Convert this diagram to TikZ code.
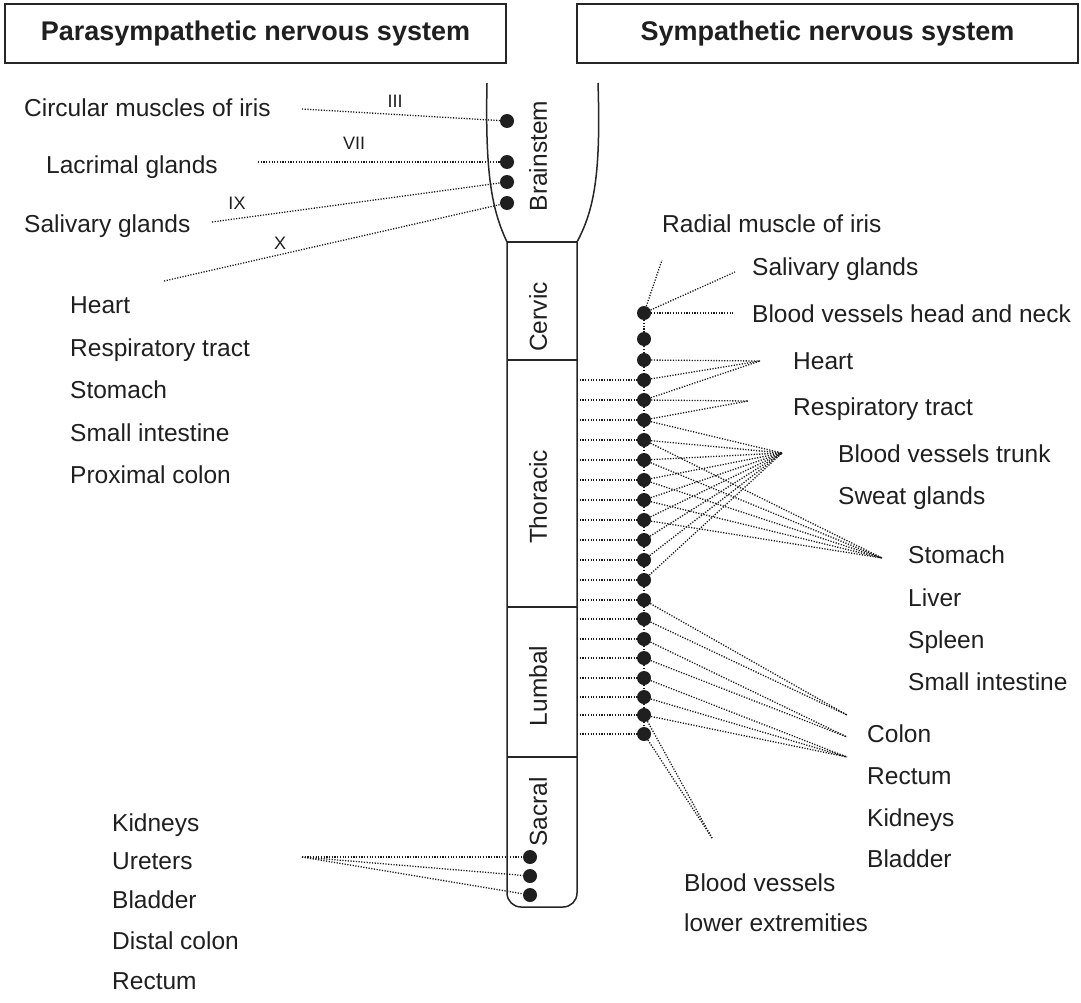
\documentclass[tikz,border=0pt]{standalone}
\usepackage{fontspec}
\setmainfont{Liberation Sans}
\begin{document}
\begin{tikzpicture}[x=1pt,y=-1pt,
  lbl/.style={anchor=base west, inner sep=0pt, font=\fontsize{24.5}{29}\selectfont, text=black!88},
  rn/.style={inner sep=0pt, font=\fontsize{18}{21}\selectfont, text=black!88},
  seg/.style={inner sep=0pt, rotate=90, font=\fontsize{24.5}{29}\selectfont, text=black!88},
  dot/.style={circle, fill=black!88, inner sep=0pt, minimum size=14pt},
  dl/.style={line width=1.3pt, dash pattern=on 1.2pt off 1.5pt, black!90},
  spine/.style={line width=1.5pt, black!85},
  titlebox/.style={draw=black!85, line width=1.4pt, minimum width=501pt, minimum height=59pt, inner sep=0pt, font=\fontsize{27}{32}\selectfont\bfseries, text=black!88}
]
\useasboundingbox (0,0) rectangle (1081,1003);

% titles
\node[titlebox] (tp) at (255.5,33.5) {Parasympathetic nervous system};
\node[titlebox] (ts) at (827.5,33.5) {Sympathetic nervous system};

% spine
\draw[spine] (487,83) .. controls (485,175) and (492,210) .. (507,242);
\draw[spine] (598,83) .. controls (601,175) and (594,210) .. (577,242);
\draw[spine, rounded corners=14pt] (507,242) -- (507,907) -- (577,907) -- (577,242);
\foreach \yy in {242,360,607,757} \draw[spine] (507,\yy) -- (577,\yy);

\node[seg] (lbs) at (538,156) {Brainstem};
\node[seg] (lcv) at (538,317) {Cervic};
\node[seg] (lth) at (538,497) {Thoracic};
\node[seg] (llu) at (538,686) {Lumbal};
\node[seg] (lsa) at (538,812) {Sacral};

% right chain dots
\foreach \yy [count=\i] in {313,339,360,380,400,420,440,460,480,500,520,540,560,580,600,619,639,658,678,697,715,734} {
  \node[dot] (d\i) at (644,\yy) {};
  \coordinate (s\i) at (577,\yy);
}
\foreach \i [evaluate=\i as \j using int(\i+1)] in {1,...,21} \draw[dl] (d\i) -- (d\j);
\foreach \i in {4,...,22} \draw[dl] (s\i) -- (d\i);

% right endpoints
\coordinate (eradial) at (662,260);
\coordinate (esal) at (735,272);
\coordinate (ehead) at (733,313);
\coordinate (eheart) at (760,361);
\coordinate (eresp) at (748,401);
\coordinate (ebvt) at (782,453);
\coordinate (estom) at (882,558);
\coordinate (ecol1) at (847,715);
\coordinate (ecol2) at (847,737);
\coordinate (ecol3) at (847,757);
\coordinate (ebvl) at (712,838);

\draw[dl] (d1) -- (eradial);
\draw[dl] (d1) -- (esal);
\draw[dl] (d1) -- (ehead);
\foreach \i in {3,4,5} \draw[dl] (d\i) -- (eheart);
\foreach \i in {5,6} \draw[dl] (d\i) -- (eresp);
\foreach \i in {6,...,14} \draw[dl] (d\i) -- (ebvt);
\foreach \i in {7,...,11} \draw[dl] (d\i) -- (estom);
\foreach \i in {15,16} \draw[dl] (d\i) -- (ecol1);
\foreach \i in {17,18} \draw[dl] (d\i) -- (ecol2);
\foreach \i in {19,20,21} \draw[dl] (d\i) -- (ecol3);
\foreach \i in {21,22} \draw[dl] (d\i) -- (ebvl);

% brainstem dots
\node[dot] (b1) at (507,121) {};
\node[dot] (b2) at (507,162) {};
\node[dot] (b3) at (507,182) {};
\node[dot] (b4) at (507,203) {};
\coordinate (ciii) at (302,109);
\coordinate (cvii) at (258,162);
\coordinate (cix) at (212,222);
\coordinate (cx) at (164,281);
\draw[dl] (ciii) -- (b1);
\draw[dl] (cvii) -- (b2);
\draw[dl] (cix) -- (b3);
\draw[dl] (cx) -- (b4);
\node[rn] (niii) at (395,101) {III};
\node[rn] (nvii) at (354,143) {VII};
\node[rn] (nix) at (237,203) {IX};
\node[rn] (nx) at (280,243) {X};

% sacral dots
\node[dot] (c1) at (530,857) {};
\node[dot] (c2) at (530,876) {};
\node[dot] (c3) at (530,895) {};
\coordinate (csac) at (302,857);
\foreach \i in {1,2,3} \draw[dl] (csac) -- (c\i);

% left labels
\node[lbl] (p1) at (24,117) {Circular muscles of iris};
\node[lbl] (p2) at (46,174) {Lacrimal glands};
\node[lbl] (p3) at (24,233) {Salivary glands};
\node[lbl] (p4) at (70,313) {Heart};
\node[lbl] (p5) at (70,356) {Respiratory tract};
\node[lbl] (p6) at (70,398) {Stomach};
\node[lbl] (p7) at (70,441) {Small intestine};
\node[lbl] (p8) at (70,483) {Proximal colon};
\node[lbl] (p9) at (112,831) {Kidneys};
\node[lbl] (p10) at (112,869) {Ureters};
\node[lbl] (p11) at (112,908) {Bladder};
\node[lbl] (p12) at (112,949) {Distal colon};
\node[lbl] (p13) at (112,989) {Rectum};

% right labels
\node[lbl] (r1) at (662,233) {Radial muscle of iris};
\node[lbl] (r2) at (752,275) {Salivary glands};
\node[lbl] (r3) at (752,322) {Blood vessels head and neck};
\node[lbl] (r4) at (793,369) {Heart};
\node[lbl] (r5) at (793,415) {Respiratory tract};
\node[lbl] (r6) at (838,462) {Blood vessels trunk};
\node[lbl] (r7) at (838,504) {Sweat glands};
\node[lbl] (r8) at (908,563) {Stomach};
\node[lbl] (r9) at (908,606) {Liver};
\node[lbl] (r10) at (908,648) {Spleen};
\node[lbl] (r11) at (908,690) {Small intestine};
\node[lbl] (r12) at (867,742) {Colon};
\node[lbl] (r13) at (867,784) {Rectum};
\node[lbl] (r14) at (867,826) {Kidneys};
\node[lbl] (r15) at (867,867) {Bladder};
\node[lbl] (r16) at (684,891) {Blood vessels};
\node[lbl] (r17) at (684,931) {lower extremities};
\end{tikzpicture}
\end{document}
